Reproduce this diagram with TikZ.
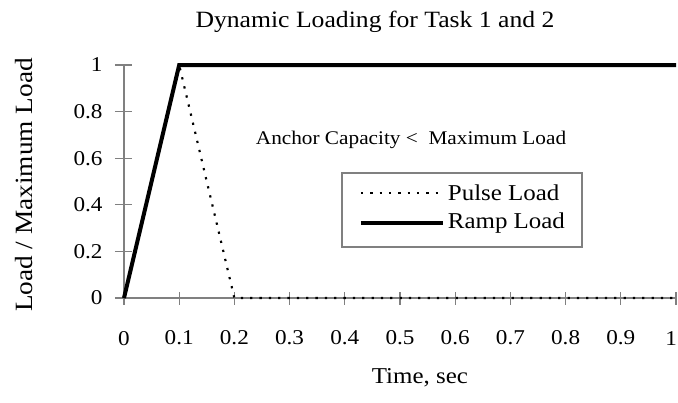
\documentclass[tikz,border=0pt]{standalone}
\usepackage{fontspec}
\setmainfont{Liberation Serif}[FakeStretch=1.1]
\usepackage{tikz}
\usetikzlibrary{positioning}
\definecolor{axisc}{HTML}{808080}
\tikzset{
  ax/.style={axisc,line width=0.9pt},
  tk/.style={font=\fontsize{15.8}{18}\selectfont,inner sep=1pt},
  lbl/.style={font=\fontsize{17}{20}\selectfont,inner sep=3.5pt},
  ramp/.style={black,line width=3pt,line join=miter},
  pulse/.style={black,line width=1.6pt,dash pattern=on 1.7pt off 5.3pt}
}
\begin{document}
\begin{tikzpicture}[x=414pt,y=174.75pt]
\useasboundingbox (-0.2246,-0.4464) rectangle (1.0036,1.2790);
% axes and ticks
\coordinate (O) at (0,0);
\coordinate (xend) at (1,0);
\coordinate (yend) at (0,1);
\draw[ax] (O) -- (xend);
\draw[ax] (O) -- (yend);
\foreach \v/\t in {0/0,1/0.1,2/0.2,3/0.3,4/0.4,5/0.5,6/0.6,7/0.7,8/0.8,9/0.9}{
  \draw[ax] (\v/10,0) ++(0,4.5pt) -- ++(0,-9.75pt);
  \node[tk] (xt\v) at (\v/10,-0.172) {\t};
}
\draw[ax] (xend) ++(0,4.5pt) -- ++(0,-9.75pt);
\node[tk] (xt10) at (0.991,-0.172) {1};
\foreach \v/\t in {0/0,2/0.2,4/0.4,6/0.6,8/0.8,10/1}{
  \draw[ax] (0,\v/10) ++(-6.75pt,0) -- ++(12.75pt,0);
  \node[tk,anchor=east] (yt\v) at (-0.036,\v/10) {\t};
}
% load curves
\draw[pulse] (0,0) -- (0.1,1) -- (0.2,0) -- (1,0);
\draw[ramp] (0,0) -- (0.1,1) -- (1,1);
% texts
\node[font=\fontsize{17.5}{20}\selectfont] (title) at (0.4547,1.1845) {Dynamic Loading for Task 1 and 2};
\node[lbl] (xlab) at (0.536,-0.343) {Time, sec};
\node[lbl,font=\fontsize{18.6}{21}\selectfont,rotate=90] (ylab) at (-0.181,0.485) {Load / Maximum Load};
\node[font=\fontsize{14.5}{17}\selectfont] (note) at (0.520,0.678) {Anchor Capacity <~ Maximum Load};
% legend
\node[draw=axisc,line width=0.9pt,minimum width=180pt,minimum height=55.5pt] (lgd) at (0.6123,0.3777) {};
\coordinate (pa) at (0.4293,0.4506);
\coordinate (pb) at (0.5779,0.4506);
\coordinate (ra) at (0.4293,0.3219);
\coordinate (rb) at (0.5779,0.3219);
\draw[pulse] (pa) -- (pb);
\draw[ramp] (ra) -- (rb);
\node[lbl,right=0pt of pb] (ptxt) {Pulse Load};
\node[lbl,right=0pt of rb] (rtxt) {Ramp Load};
\end{tikzpicture}
\end{document}
